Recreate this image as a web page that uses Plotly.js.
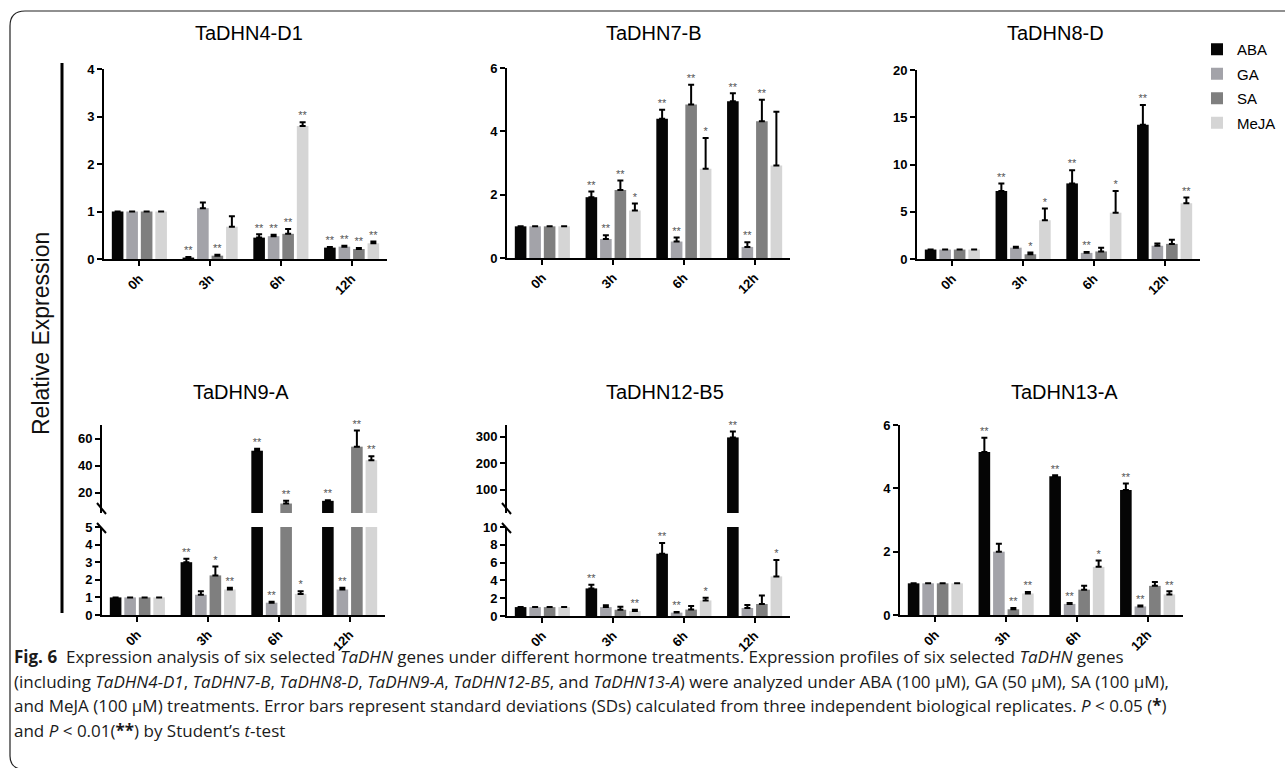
<!DOCTYPE html>
<html><head><meta charset="utf-8">
<script src="https://cdn.plot.ly/plotly-3.0.1.min.js"></script>
<style>html,body{margin:0;padding:0;background:#fff}</style>
</head><body><div id="chart" style="width:1285px;height:768px"></div>
<script>
// ---------------- DATA ----------------
const timePoints = ['0h', '3h', '6h', '12h'];
const treatments = ['ABA', 'GA', 'SA', 'MeJA'];
const treatmentColors = ['#050505', '#a3a3a9', '#7f7f7f', '#d5d5d5'];

// rows: ABA, GA, SA, MeJA ; columns: 0h, 3h, 6h, 12h
const dhn4Mean = [[1, 0.03, 0.45, 0.24], [1, 1.07, 0.48, 0.26], [1, 0.07, 0.53, 0.21], [1, 0.68, 2.80, 0.33]];
const dhn4Sd   = [[0, 0.01, 0.07, 0.01], [0, 0.12, 0.03, 0.02], [0, 0.02, 0.10, 0.02], [0, 0.22, 0.08, 0.04]];
const dhn4Sig  = [['', '**', '**', '**'], ['', '', '**', '**'], ['', '**', '**', '**'], ['', '', '**', '**']];

const dhn7Mean = [[1, 1.92, 4.40, 4.95], [1, 0.60, 0.52, 0.35], [1, 2.15, 4.85, 4.32], [1, 1.50, 2.82, 2.92]];
const dhn7Sd   = [[0, 0.18, 0.28, 0.25], [0, 0.12, 0.13, 0.15], [0, 0.30, 0.62, 0.68], [0, 0.22, 0.97, 1.70]];
const dhn7Sig  = [['', '**', '**', '**'], ['', '**', '**', '**'], ['', '**', '**', '**'], ['', '*', '*', '']];

const dhn8Mean = [[1, 7.2, 8.0, 14.2], [1, 1.2, 0.65, 1.4], [1, 0.5, 0.8, 1.6], [1, 4.1, 4.9, 5.9]];
const dhn8Sd   = [[0, 0.8, 1.4, 2.1], [0, 0.1, 0.1, 0.25], [0, 0.2, 0.4, 0.45], [0, 1.25, 2.3, 0.6]];
const dhn8Sig  = [['', '**', '**', '**'], ['', '', '**', ''], ['', '*', '', ''], ['', '*', '*', '**']];

const dhn9Mean = [[1, 3.0, 51.0, 14.0], [1, 1.15, 0.70, 1.45], [1, 2.25, 12.0, 54.0], [1, 1.45, 1.20, 44.0]];
const dhn9Sd   = [[0, 0.2, 1.5, 0.5], [0, 0.2, 0.05, 0.1], [0, 0.5, 2.0, 12.0], [0, 0.1, 0.15, 3.0]];
const dhn9Sig  = [['', '**', '**', '**'], ['', '', '**', '**'], ['', '*', '**', '**'], ['', '**', '*', '**']];

const dhn12Mean = [[1, 3.1, 7.0, 298], [1, 1.0, 0.38, 0.9], [1, 0.7, 0.72, 1.35], [1, 0.55, 1.75, 4.45]];
const dhn12Sd   = [[0, 0.4, 1.2, 22], [0, 0.2, 0.08, 0.35], [0, 0.35, 0.4, 0.95], [0, 0.15, 0.3, 1.85]];
const dhn12Sig  = [['', '**', '**', '**'], ['', '', '**', ''], ['', '', '', ''], ['', '**', '*', '*']];

const dhn13Mean = [[1, 5.15, 4.38, 3.95], [1, 2.0, 0.35, 0.27], [1, 0.18, 0.80, 0.92], [1, 0.68, 1.52, 0.65]];
const dhn13Sd   = [[0, 0.45, 0.03, 0.2], [0, 0.25, 0.03, 0.03], [0, 0.04, 0.12, 0.12], [0, 0.05, 0.2, 0.1]];
const dhn13Sig  = [['', '**', '**', '**'], ['', '', '**', '**'], ['', '**', '', ''], ['', '**', '*', '**']];

const geneNames = ['TaDHN4-D1', 'TaDHN7-B', 'TaDHN8-D', 'TaDHN9-A', 'TaDHN12-B5', 'TaDHN13-A'];

// ---------------- LAYOUT ----------------
const W = 1285, H = 768;
const fx = p => p / W;
const fy = p => 1 - p / H;

const panels = [
  {mean: dhn4Mean, sd: dhn4Sd, sig: dhn4Sig, x: [104, 387], y: [69, 259], range: [0, 4], dtick: 1, tx: 249, ty: 33},
  {mean: dhn7Mean, sd: dhn7Sd, sig: dhn7Sig, x: [507, 790], y: [68, 258], range: [0, 6], dtick: 2, tx: 654, ty: 33},
  {mean: dhn8Mean, sd: dhn8Sd, sig: dhn8Sig, x: [917, 1200], y: [70, 259], range: [0, 20], dtick: 5, tx: 1055, ty: 33},
  {mean: dhn9Mean, sd: dhn9Sd, sig: dhn9Sig, x: [102, 385], y: [527, 615], range: [0, 5], dtick: 1, tx: 241, ty: 392,
   upper: {y: [425, 513], range: [5, 70], tickvals: [20, 40, 60]}},
  {mean: dhn12Mean, sd: dhn12Sd, sig: dhn12Sig, x: [507, 790], y: [527, 616], range: [0, 10], dtick: 2, tx: 665, ty: 392,
   upper: {y: [425, 513], range: [12, 345], tickvals: [100, 200, 300]}},
  {mean: dhn13Mean, sd: dhn13Sd, sig: dhn13Sig, x: [900, 1183], y: [425, 615], range: [0, 6], dtick: 2, tx: 1064, ty: 392}
];

const tickFont = {family: 'Liberation Sans, Arial, sans-serif', size: 13, color: '#000', weight: 'bold'};
const starFont = {family: 'Liberation Sans, Arial, sans-serif', size: 11, color: '#555555'};

const layout = {
  width: W, height: H,
  margin: {l: 0, r: 0, t: 0, b: 0},
  paper_bgcolor: '#ffffff', plot_bgcolor: 'rgba(0,0,0,0)',
  barmode: 'group', bargap: 0.18, bargroupgap: 0.2,
  scattermode: 'group', scattergap: 0.18,
  font: {family: 'Liberation Sans, Arial, sans-serif', color: '#000'},
  showlegend: true,
  legend: {x: fx(1197), y: fy(33), xanchor: 'left', yanchor: 'top', bgcolor: 'rgba(0,0,0,0)',
           font: {family: 'Liberation Sans, Arial, sans-serif', size: 15, color: '#000'},
           tracegroupgap: 2, traceorder: 'grouped'},
  annotations: [], shapes: []
};

function yAxisBase(extra) {
  return Object.assign({showline: true, linewidth: 2, linecolor: '#000', ticks: 'outside', ticklen: 5,
    tickwidth: 2, tickcolor: '#000', tickfont: tickFont, showgrid: false, zeroline: false, fixedrange: true}, extra);
}

const traces = [];
let extraAxis = 7;

panels.forEach((p, i) => {
  const n = i + 1;
  const sfx = n === 1 ? '' : String(n);
  const xa = 'x' + sfx, ya = 'y' + sfx;
  layout['xaxis' + sfx] = {
    domain: [fx(p.x[0]), fx(p.x[1])], anchor: ya, type: 'category',
    categoryorder: 'array', categoryarray: timePoints,
    showline: true, linewidth: 2, linecolor: '#000', ticks: 'outside', ticklen: 5, tickwidth: 2, tickcolor: '#000',
    tickangle: -45, tickfont: tickFont, showgrid: false, zeroline: false, fixedrange: true
  };
  layout['yaxis' + sfx] = yAxisBase({domain: [fy(p.y[1]), fy(p.y[0])], anchor: xa, range: p.range, dtick: p.dtick, tick0: 0});

  const sets = [{ya: ya, inRange: v => !p.upper || v < p.range[1], lower: true}];
  if (p.upper) {
    const un = String(extraAxis++);
    layout['yaxis' + un] = yAxisBase({domain: [fy(p.upper.y[1]), fy(p.upper.y[0])], anchor: xa,
      range: p.upper.range, tickvals: p.upper.tickvals});
    sets.push({ya: 'y' + un, inRange: v => v >= p.range[1], lower: false});
    // axis break marks
    const ax = p.x[0];
    [[p.upper.y[1] - 10, p.upper.y[1] + 1], [p.y[0] - 4, p.y[0] + 6]].forEach(seg => {
      layout.shapes.push({type: 'line', xref: 'paper', yref: 'paper',
        x0: fx(ax - 5), y0: fy(seg[0]), x1: fx(ax + 4), y1: fy(seg[1]), line: {color: '#000', width: 2}});
    });
  }

  sets.forEach(s => {
    treatments.forEach((t, k) => {
      traces.push({
        type: 'bar', x: timePoints, y: p.mean[k], name: t, xaxis: xa, yaxis: s.ya,
        marker: {color: treatmentColors[k], line: {width: 0}},
        error_y: {type: 'data', symmetric: false, array: p.sd[k], arrayminus: p.sd[k].map(() => 0),
                  color: '#000', thickness: 2, width: 3},
        offsetgroup: t, legendgroup: t, showlegend: i === 0 && s.lower, hoverinfo: 'skip'
      });
    });
    treatments.forEach((t, k) => {
      const tops = p.mean[k].map((m, j) => m + p.sd[k][j]);
      traces.push({
        type: 'scatter', mode: 'text', x: timePoints, y: tops,
        text: p.sig[k].map((sg, j) => s.inRange(tops[j]) ? sg : ''),
        textposition: 'top center', textfont: starFont, cliponaxis: false,
        xaxis: xa, yaxis: s.ya, offsetgroup: t, showlegend: false, hoverinfo: 'skip'
      });
    });
  });

  layout.annotations.push({text: geneNames[i], xref: 'paper', yref: 'paper', x: fx(p.tx), y: fy(p.ty),
    xanchor: 'center', yanchor: 'middle', showarrow: false,
    font: {family: 'Liberation Sans, Arial, sans-serif', size: 20, color: '#000'}});
});

// shared y label + bar
layout.annotations.push({text: 'Relative Expression', xref: 'paper', yref: 'paper', x: fx(41), y: fy(334),
  xanchor: 'center', yanchor: 'middle', textangle: -90, showarrow: false,
  font: {family: 'Liberation Sans, Arial, sans-serif', size: 23, color: '#111'}});
layout.shapes.push({type: 'line', xref: 'paper', yref: 'paper', x0: fx(62), x1: fx(62), y0: fy(63), y1: fy(613),
  line: {color: '#000', width: 3}});

// frame
layout.shapes.push({type: 'path', xref: 'paper', yref: 'paper',
  path: `M ${fx(1285)},${fy(11)} L ${fx(25)},${fy(11)} Q ${fx(10)},${fy(11)} ${fx(10)},${fy(26)} L ${fx(10)},${fy(756)} Q ${fx(10)},${fy(767)} ${fx(20)},${fy(769)}`,
  line: {color: '#222', width: 1.2}});

// caption
const capFont = {family: 'Open Sans, Noto Sans, sans-serif', size: 17, color: '#1a1a1a'};
const captionLines = [
  '<b>Fig. 6</b>  Expression analysis of six selected <i>TaDHN</i> genes under different hormone treatments. Expression profiles of six selected <i>TaDHN</i> genes',
  '(including <i>TaDHN4-D1</i>, <i>TaDHN7-B</i>, <i>TaDHN8-D</i>, <i>TaDHN9-A</i>, <i>TaDHN12-B5</i>, and <i>TaDHN13-A</i>) were analyzed under ABA (100 μM), GA (50 μM), SA (100 μM),',
  'and MeJA (100 μM) treatments. Error bars represent standard deviations (SDs) calculated from three independent biological replicates. <i>P</i> < 0.05 (<b>*</b>)',
  'and <i>P</i> < 0.01(<b>**</b>) by Student’s <i>t</i>-test'
];
const captionY = [656, 681, 705, 730];
captionLines.forEach((t, j) => layout.annotations.push({text: t, xref: 'paper', yref: 'paper', x: fx(12), y: fy(captionY[j]),
  xanchor: 'left', yanchor: 'middle', showarrow: false, align: 'left', font: capFont}));

Plotly.newPlot('chart', traces, layout, {staticPlot: true, displayModeBar: false});
</script></body></html>
